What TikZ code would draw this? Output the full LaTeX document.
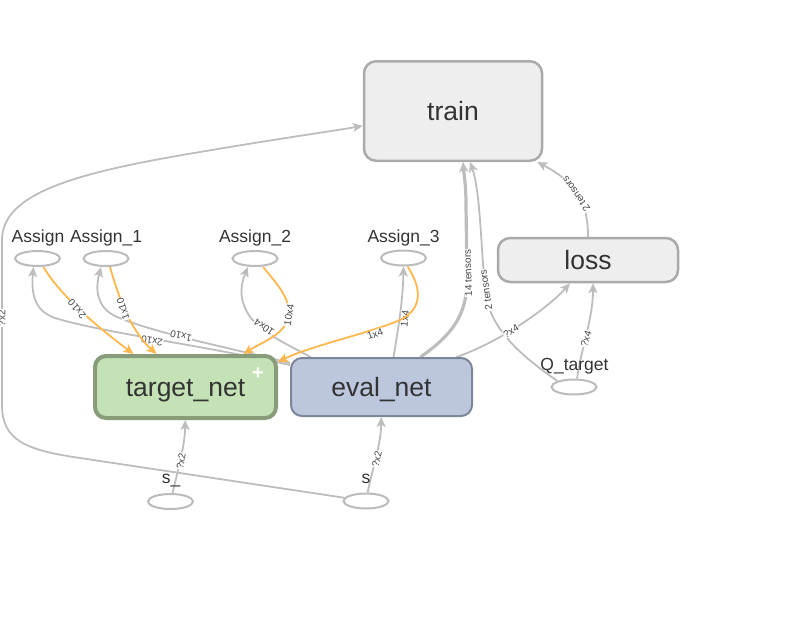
\documentclass[tikz,border=0pt]{standalone}
\usepackage{fontspec}
\setmainfont{Liberation Sans}
\usetikzlibrary{arrows.meta,shapes.geometric}
\definecolor{egray}{RGB}{189,189,189}
\definecolor{eorange}{RGB}{255,183,77}
\definecolor{txt}{RGB}{51,51,51}
\definecolor{lblc}{RGB}{70,70,70}
\definecolor{boxfill}{RGB}{238,238,238}
\definecolor{boxline}{RGB}{170,170,170}
\definecolor{tnfill}{RGB}{197,226,182}
\definecolor{tnline}{RGB}{137,156,122}
\definecolor{enfill}{RGB}{188,199,222}
\definecolor{enline}{RGB}{125,134,153}
\definecolor{ellline}{RGB}{187,187,187}
\pgfdeclarelayer{edges}
\pgfsetlayers{edges,main}
\tikzset{
  bigtext/.style={text=txt, font=\fontsize{26.5}{30}\selectfont, text height=19pt, text depth=0pt, inner sep=0pt},
  opbox/.style={bigtext, draw=boxline, fill=boxfill, line width=2.5pt, rounded corners=12pt},
  tnbox/.style={bigtext, draw=tnline, fill=tnfill, line width=4pt, rounded corners=11pt},
  enbox/.style={bigtext, draw=enline, fill=enfill, line width=2pt, rounded corners=11pt},
  opell/.style={ellipse, draw=ellline, fill=white, line width=2pt, minimum width=45pt, minimum height=15pt, inner sep=0pt},
  nlabel/.style={anchor=base, text=txt, font=\fontsize{17.5}{20}\selectfont, inner sep=0pt},
  elbl/.style={text=lblc, font=\fontsize{10}{11}\selectfont, fill=white, inner sep=0.5pt},
  ge/.style={draw=egray, line width=1.8pt, -{Stealth[length=10pt,width=9pt,inset=2.5pt]}},
  oe/.style={draw=eorange, line width=1.8pt, -{Stealth[length=10pt,width=9pt,inset=2.5pt]}}
}
\begin{document}
\begin{tikzpicture}[x=1pt,y=-1pt]
\useasboundingbox (0,0) rectangle (798,630);
% main op nodes
\node[opbox, minimum width=178pt, minimum height=99.5pt] (train) at (453,111) {train};
\node[opbox, minimum width=180pt, minimum height=44pt] (loss) at (588,260) {loss};
\node[tnbox, minimum width=181pt, minimum height=62pt] (tnet) at (185.5,387) {target\_net};
\node[enbox, minimum width=181pt, minimum height=58pt] (enet) at (381.5,387) {eval\_net};
\node[text=white, font=\fontsize{20}{20}\selectfont\bfseries, inner sep=0pt] (plus) at (258,374) {+};
% ellipse nodes
\node[opell] (a0) at (37.5,258.5) {};
\node[opell] (a1) at (106,258.5) {};
\node[opell] (a2) at (255,258.5) {};
\node[opell] (a3) at (403.5,258) {};
\node[opell] (q) at (574,387) {};
\node[opell] (s_) at (170.5,501.5) {};
\node[opell] (s) at (366,501) {};
% ellipse labels
\node[nlabel] (a0l) at (38,242) {Assign};
\node[nlabel] (a1l) at (106,242) {Assign\_1};
\node[nlabel] (a2l) at (255,242) {Assign\_2};
\node[nlabel] (a3l) at (403.5,242) {Assign\_3};
\node[nlabel] (ql) at (574.5,370) {Q\_target};
\node[nlabel] (s_l) at (171,483) {s\_};
\node[nlabel] (sl) at (366,483) {s};
\begin{pgfonlayer}{edges}
% s -> train (long edge)
\draw[ge] (s) -- (80,458) .. controls (25,450) and (2,440) .. (2,405) -- (2,240)
  .. controls (2,192) and (80,172) .. (200,152) .. controls (270,140) and (320,133) .. (train);
\node[elbl, rotate=90] (l1) at (2,318) {?x2};
% s -> eval_net
\draw[ge] (s) .. controls (372,470) and (381,445) .. (enet);
\node[elbl, rotate=78] (l2) at (377,459) {?x2};
% s_ -> target_net
\draw[ge] (s_) .. controls (178,470) and (185,445) .. (tnet);
\node[elbl, rotate=80] (l3) at (181,461) {?x2};
% eval_net -> train (14 tensors)
\draw[ge, line width=3.2pt] ([xshift=39pt]enet.north) .. controls (452,335) and (467,315) .. (467,280)
  -- (466,205) .. controls (466,185) and (464,175) .. ([xshift=10pt]train.south);
\node[elbl, rotate=92] (l4) at (468,273) {14 tensors};
% Q_target -> train (2 tensors)
\draw[ge] (q.north west) .. controls (520,355) and (489,328) .. (485,290)
  .. controls (481,245) and (480,190) .. ([xshift=17pt]train.south);
\node[elbl, rotate=98] (l5) at (486,290) {2 tensors};
% eval_net -> loss
\draw[ge] ([xshift=75pt]enet.north) .. controls (500,342) and (548,308) .. ([xshift=-18pt]loss.south);
\node[elbl, rotate=30] (l6) at (511,331) {?x4};
% Q_target -> loss
\draw[ge] ([xshift=3pt]q.north) .. controls (582,345) and (593,318) .. ([xshift=5pt]loss.south);
\node[elbl, rotate=72] (l7) at (586,339) {?x4};
% loss -> train
\draw[ge] (loss.north) .. controls (588,200) and (575,182) .. ([xshift=-6pt]train.south east);
\node[elbl, rotate=125] (l8) at (576,194) {2 tensors};
% eval_net -> Assign ops
\draw[ge] ([yshift=-8pt]enet.north west) .. controls (200,345) and (100,332) .. (55,318)
  .. controls (35,311) and (31,295) .. ([xshift=-4pt]a0.south);
\node[elbl, rotate=171] (l9) at (152,341) {2x10};
\draw[ge] ([yshift=-6pt]enet.north west) .. controls (230,348) and (150,332) .. (115,316)
  .. controls (97,307) and (95,290) .. ([xshift=-5pt]a1.south);
\node[elbl, rotate=167] (l10) at (181,336) {1x10};
\draw[ge] ([xshift=-71pt]enet.north) .. controls (285,343) and (255,330) .. (246,310)
  .. controls (239,296) and (241,284) .. ([xshift=-7pt]a2.south);
\node[elbl, rotate=145] (l11) at (264,327) {10x4};
\draw[ge] ([xshift=12pt]enet.north) .. controls (398,330) and (403,300) .. (a3.south);
\node[elbl, rotate=83] (l12) at (405,319) {1x4};
% Assign ops -> target_net (orange)
\draw[oe] ([xshift=6pt]a0.south) .. controls (60,295) and (95,325) .. ([xshift=-52pt]tnet.north);
\node[elbl, rotate=130] (l13) at (77,309) {2x10};
\draw[oe] ([xshift=4pt]a1.south) .. controls (118,295) and (130,330) .. ([xshift=-29pt]tnet.north);
\node[elbl, rotate=108] (l14) at (123,309) {1x10};
\draw[oe] ([xshift=8pt]a2.south) .. controls (278,285) and (292,300) .. (288,318)
  .. controls (284,335) and (262,342) .. ([xshift=58pt]tnet.north);
\node[elbl, rotate=80] (l15) at (289,315) {10x4};
\draw[oe] ([xshift=4pt]a3.south) .. controls (420,285) and (425,308) .. (400,320)
  .. controls (370,333) and (310,346) .. ([yshift=-8pt]tnet.north east);
\node[elbl, rotate=20] (l16) at (375,334) {1x4};
\end{pgfonlayer}
\end{tikzpicture}
\end{document}
